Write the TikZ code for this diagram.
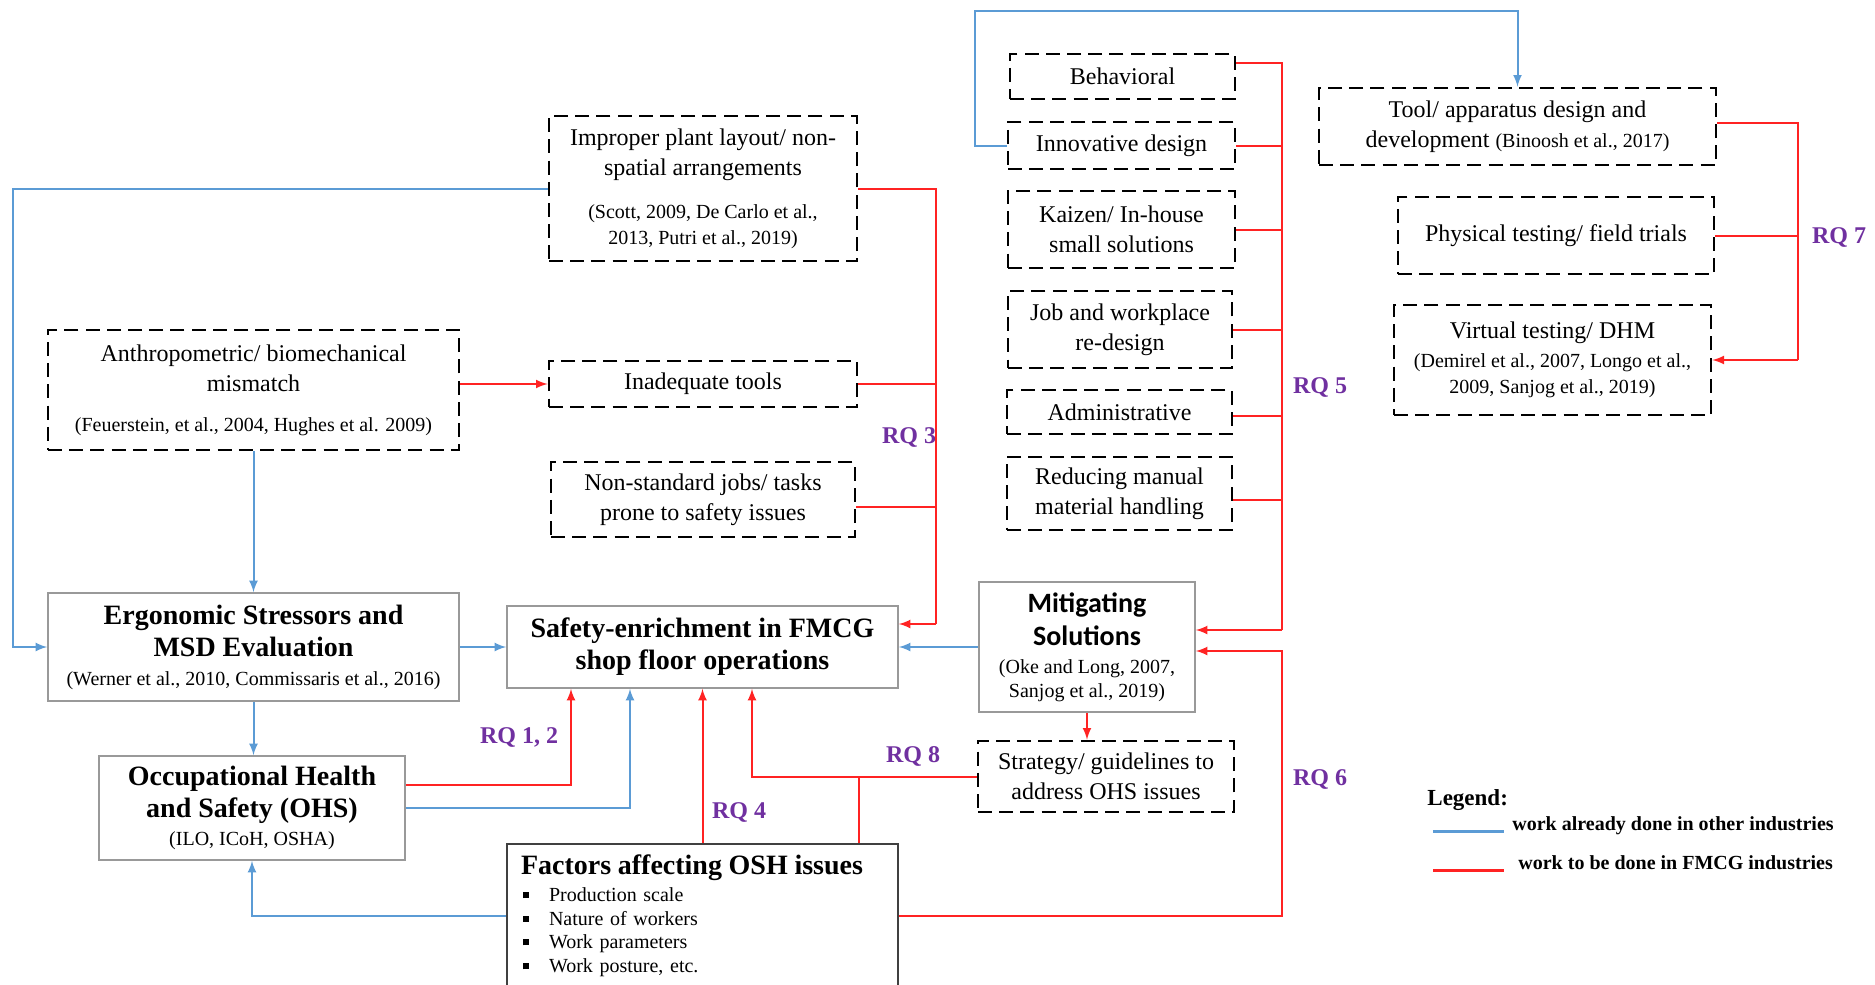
\documentclass[tikz,border=0pt]{standalone}
\usepackage{fontspec}
\setmainfont{Liberation Serif}
\newfontfamily\calibri{Carlito}
\definecolor{blueline}{RGB}{91,155,213}
\definecolor{redline}{RGB}{255,35,35}
\definecolor{rqpurple}{RGB}{112,48,160}
\newcommand{\refsz}{\normalfont\fontsize{10}{13}\selectfont}
\newcommand{\headsz}{\normalfont\bfseries\fontsize{14}{16.5}\selectfont}
\newcommand{\sqbul}{\makebox[14pt][l]{\hspace{1pt}\rule[1.6pt]{3pt}{3pt}}}

\begin{document}
\begin{tikzpicture}[x=0.5pt, y=-0.5pt, >=latex,
    dbox/.style={draw, line width=1.4pt, dash pattern=on 7pt off 3.6pt, align=center, inner sep=0pt, font=\fontsize{12}{15}\selectfont},
    sbox/.style={draw=black!40, line width=0.8pt, align=center, inner sep=0pt, font=\fontsize{10}{14}\selectfont},
    bl/.style={blueline, line width=1pt},
    rl/.style={redline, line width=1pt},
    rq/.style={text=rqpurple, inner sep=0pt, font=\bfseries\fontsize{12}{14}\selectfont}]
    \useasboundingbox (0,0) rectangle (1875,985);

    \node[dbox, minimum width=154pt, minimum height=72.5pt] (layout) at (703,188.5) {Improper plant layout/ non-\\spatial arrangements\\[6.5pt]\refsz (Scott, 2009, De Carlo et al.,\\[-1.9pt]\refsz 2013, Putri et al., 2019)};
    \node[dbox, minimum width=205.5pt, minimum height=60pt] (anthro) at (253.5,390) {Anthropometric/ biomechanical\\mismatch\\[5pt]\refsz (Feuerstein, et al., 2004, Hughes et al. 2009)};
    \node[dbox, minimum width=154pt, minimum height=23pt] (tools) at (703,384) {Inadequate tools};
    \node[dbox, minimum width=152pt, minimum height=37.5pt] (nonstd) at (703,499.5) {Non-standard jobs/ tasks\\prone to safety issues};

    \node[dbox, minimum width=112.5pt, minimum height=22.5pt] (behav) at (1122.5,76.5) {Behavioral};
    \node[dbox, minimum width=113.5pt, minimum height=23.5pt] (innov) at (1121.5,145.5) {Innovative design};
    \node[dbox, minimum width=113.5pt, minimum height=38.5pt] (kaizen) at (1121.5,229.5) {Kaizen/ In-house\\small solutions};
    \node[dbox, minimum width=112pt, minimum height=38.5pt] (jobre) at (1120,329.5) {Job and workplace\\re-design};
    \node[dbox, minimum width=112.5pt, minimum height=22pt] (admin) at (1119.5,412) {Administrative};
    \node[dbox, minimum width=112.5pt, minimum height=36.5pt] (reduce) at (1119.5,493.5) {Reducing manual\\material handling};

    \node[dbox, minimum width=198.5pt, minimum height=38.5pt] (tool) at (1517.5,126.5) {Tool/ apparatus design and\\development {\refsz (Binoosh et al., 2017)}};
    \node[dbox, minimum width=158pt, minimum height=38.5pt] (phys) at (1556,235.5) {Physical testing/ field trials};
    \node[dbox, minimum width=158.5pt, minimum height=55pt] (virt) at (1552.5,360) {Virtual testing/ DHM\\[-0.7pt]\refsz (Demirel et al., 2007, Longo et al.,\\[-2pt]\refsz 2009, Sanjog et al., 2019)};
    \node[dbox, minimum width=128pt, minimum height=35.5pt] (strat) at (1106,776.5) {Strategy/ guidelines to\\address OHS issues};

    \node[sbox, minimum width=205.5pt, minimum height=54pt] (ergo) at (253.5,647) {\headsz Ergonomic Stressors and\\[2.2pt]\headsz MSD Evaluation\\[0.3pt]\refsz (Werner et al., 2010, Commissaris et al., 2016)};
    \node[sbox, minimum width=195.5pt, minimum height=41pt] (safety) at (702.5,647) {\headsz Safety-enrichment in FMCG\\[2.1pt]\headsz shop floor operations};
    \node[sbox, minimum width=108pt, minimum height=65pt] (mitig) at (1087,647) {\calibri\bfseries\fontsize{14}{17}\selectfont Mitigating\\[2.7pt]\calibri\bfseries\fontsize{14}{17}\selectfont Solutions\\[-0.25pt]\refsz (Oke and Long, 2007,\\[-2pt]\refsz Sanjog et al., 2019)};
    \node[sbox, minimum width=153pt, minimum height=52pt] (ohs) at (252,808) {\headsz Occupational Health\\[2.1pt]\headsz and Safety (OHS)\\[0.3pt]\refsz (ILO, ICoH, OSHA)};
    \node[draw=black!75, line width=0.8pt, minimum width=195.5pt, minimum height=72pt, inner xsep=7pt, inner ysep=0pt, text width=181.5pt, align=left] (factors) at (702.5,916) {{\headsz Factors affecting OSH issues\par}\vspace{1.5pt}\fontsize{10}{11.8}\selectfont
      \sqbul Production scale\\\sqbul Nature of workers\\\sqbul Work parameters\\\sqbul Work posture, etc.};

    \node[rq] (rq3) at (909,437) {RQ 3};
    \node[rq] (rq5) at (1320,387) {RQ 5};
    \node[rq] (rq7) at (1839,237) {RQ 7};
    \node[rq] (rq12) at (519,737) {RQ 1, 2};
    \node[rq] (rq4) at (739,812) {RQ 4};
    \node[rq] (rq8) at (913,756) {RQ 8};
    \node[rq] (rq6) at (1320,779) {RQ 6};

    \coordinate (lcorner) at (13,188.5);
    \coordinate (itop) at (975,11);
    \draw[bl,->] (layout.west) -- (lcorner) |- (ergo.west);
    \draw[bl,->] (anthro.south) -- (ergo.north);
    \draw[bl,->] (ergo.east) -- (safety.west);
    \draw[bl,->] (ergo.south) -- (ergo.south |- ohs.north);
    \draw[bl,->] (ohs.east) -| (630,0 |- safety.south);
    \draw[bl,->] (factors.west) -| (ohs.south);
    \draw[bl,->] (mitig.west) -- (safety.east);
    \draw[bl,->] (innov.west) -| (itop) -| (tool.north);

    \draw[rl,->] (anthro.east |- tools.west) -- (tools.west);
    \coordinate (b3) at (936,624);
    \draw[rl] (layout.east) -| (b3);
    \draw[rl,->] (b3) -- (b3 -| safety.east);
    \draw[rl] (tools.east) -- (tools.east -| b3);
    \draw[rl] ([yshift=-3.75pt]nonstd.east) -- ([yshift=-3.75pt]nonstd.east -| b3);

    \coordinate (b5top) at (1282,63);
    \coordinate (b5) at (1282,630);
    \draw[rl] (behav.east |- b5top) -- (b5top) -- (b5);
    \draw[rl,->] (b5) -- (b5 -| mitig.east);
    \draw[rl] (innov.east) -- (innov.east -| b5);
    \draw[rl] (kaizen.east) -- (kaizen.east -| b5);
    \draw[rl] (jobre.east) -- (jobre.east -| b5);
    \draw[rl] ([yshift=-2pt]admin.east) -- ([yshift=-2pt]admin.east -| b5);
    \draw[rl] ([yshift=-3.25pt]reduce.east) -- ([yshift=-3.25pt]reduce.east -| b5);

    \coordinate (b6) at (1282,651);
    \draw[rl,->] (factors.east) -| (b6) -- (b6 -| mitig.east);

    \coordinate (b7) at (1798,360);
    \draw[rl] ([yshift=1.75pt]tool.east) -| (b7);
    \draw[rl,->] (b7) -- (virt.east);
    \draw[rl] (phys.east) -- (phys.east -| b7);

    \draw[rl,->] (mitig.south) -- (mitig.south |- strat.north);
    \draw[rl,->] ([yshift=11.5pt]ohs.east) -| (571,0 |- safety.south);
    \draw[rl,->] (factors.north) -- (safety.south);
    \draw[rl,->] (strat.west) -| (752,0 |- safety.south);
    \draw[rl] (859,0 |- factors.north) -- (859,0 |- strat.west);

    \node[anchor=west, inner sep=0pt, font=\bfseries\fontsize{11.5}{13}\selectfont] (legend) at (1427,800) {Legend:};
    \coordinate (lb1) at (1433,831);
    \coordinate (lb2) at (1504,831);
    \coordinate (lr1) at (1433,870);
    \coordinate (lr2) at (1504,870);
    \draw[blueline, line width=1.5pt] (lb1) -- (lb2);
    \draw[redline, line width=1.5pt] (lr1) -- (lr2);
    \node[anchor=west, inner sep=0pt, font=\bfseries\fontsize{10}{12}\selectfont] (lbtext) at (1512,826) {work already done in other industries};
    \node[anchor=west, inner sep=0pt, font=\bfseries\fontsize{10}{12}\selectfont] (lrtext) at (1518,863) {work to be done in FMCG industries};
\end{tikzpicture}
\end{document}
